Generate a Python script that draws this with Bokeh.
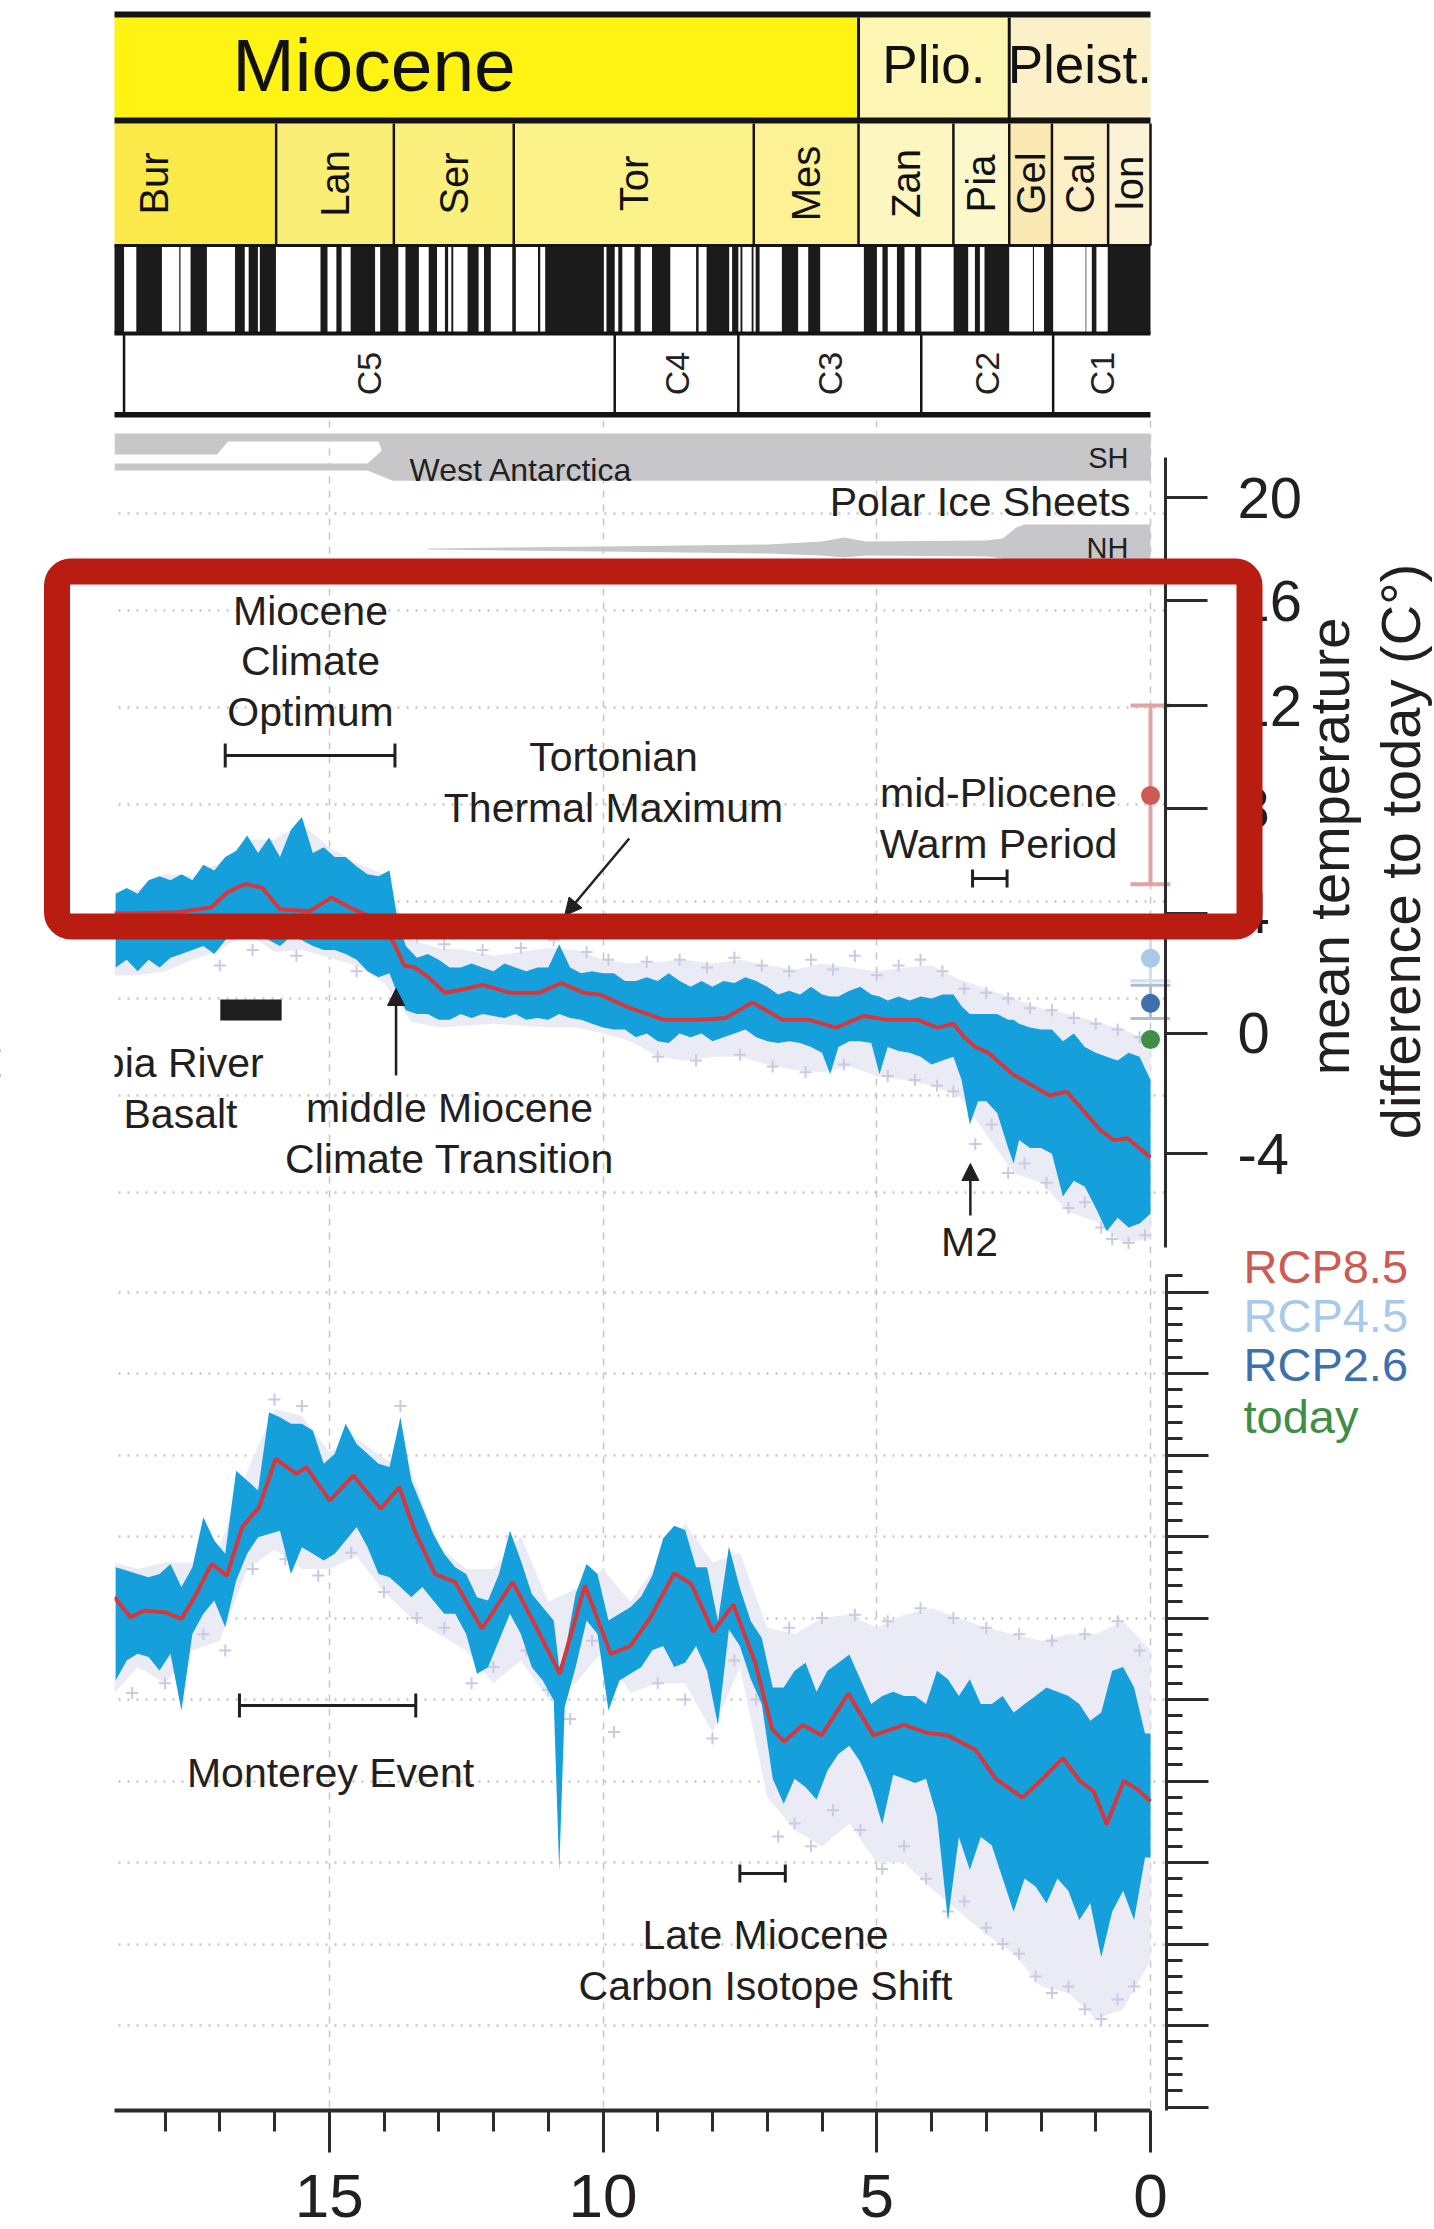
import numpy as np
from bokeh.plotting import figure
from bokeh.layouts import column
from bokeh.models import (Range1d, LinearAxis, FixedTicker, Grid, Arrow,
                          NormalHead, BoxAnnotation)
from bokeh.core.properties import value
from bokeh.embed import file_html
from bokeh.resources import INLINE

# ============================ DATA ============================
# Geologic time scale (Ma)
epoch_names = ["Miocene", "Plio.", "Pleist."]
epoch_old = [23.03, 5.333, 2.58]
epoch_young = [5.333, 2.58, 0.0]
epoch_colors = ["#fff314", "#fef7b4", "#fcf0c8"]

stage_names = ["Bur", "Lan", "Ser", "Tor", "Mes", "Zan", "Pia", "Gel", "Cal", "Ion"]
stage_old = [20.44, 15.97, 13.82, 11.63, 7.246, 5.333, 3.600, 2.58, 1.80, 0.774]
stage_young = [15.97, 13.82, 11.63, 7.246, 5.333, 3.600, 2.58, 1.80, 0.774, 0.0]
stage_colors = ["#fbe94a", "#fbee77", "#fbef7d", "#fcf28a", "#fcf195",
                "#fdf6c0", "#fdf7cc", "#fbe9b4", "#fcefc6", "#fcf2d6"]

chron_names = ["C5", "C4", "C3", "C2", "C1"]
chron_old = [18.748, 9.786, 7.528, 4.187, 1.778]
chron_young = [9.786, 7.528, 4.187, 1.778, 0.0]

# normal polarity intervals (black)
normal_young = [0.000, 0.988, 1.173, 1.778, 2.128, 2.581, 3.116, 3.330, 4.187, 4.493,
                4.799, 4.997, 6.033, 6.436, 7.140, 7.251, 7.454, 7.528, 7.695, 8.254,
                8.771, 9.311, 9.647, 9.786, 9.984, 11.146, 11.592, 12.049, 12.272, 12.735,
                12.829, 13.032, 13.363, 13.739, 14.163, 14.775, 15.032, 15.974, 16.303, 16.543,
                17.235, 17.717, 18.056, 18.748]
normal_old = [0.781, 1.072, 1.185, 1.945, 2.148, 3.032, 3.207, 3.596, 4.300, 4.631,
              4.896, 5.235, 6.252, 6.733, 7.212, 7.285, 7.489, 7.642, 8.108, 8.300,
              9.105, 9.426, 9.721, 9.937, 11.056, 11.188, 11.657, 12.174, 12.474, 12.770,
              12.887, 13.183, 13.608, 14.070, 14.609, 14.870, 15.160, 16.268, 16.472, 16.721,
              17.533, 17.740, 18.524, 19.722]

# Polar ice sheet schematic (age, upper / lower edge in px of the ice strip)
ice_sh_age = [19.5, 17.05, 16.85, 14.10, 13.85, 0.0]
ice_sh_top = [433, 433, 433, 433, 433, 433]
ice_sh_bottom = [454, 454, 441, 441, 480, 480]
ice_wais_age = [19.5, 14.30, 13.85, 0.0]
ice_wais_top = [463, 463, 441, 441]
ice_wais_bottom = [470, 470, 480, 480]
ice_nh_age = [13.2, 10.0, 7.0, 6.0, 5.6, 5.2, 3.0, 2.7, 2.45, 2.3, 0.0]
ice_nh_top = [548, 546, 544, 541, 537, 541, 540, 538, 527, 524, 524]
ice_nh_bottom = [549, 551, 553, 555, 557, 555, 556, 558, 562, 563, 563]

# Benthic d18O (permil, upper panel): envelope of the high-resolution record
d18_age = [18.9, 18.7, 18.5, 18.3, 18.1, 17.9, 17.7, 17.5, 17.3, 17.1,
           16.9, 16.7, 16.5, 16.3, 16.1, 15.9, 15.7, 15.5, 15.3, 15.1,
           14.9, 14.7, 14.5, 14.3, 14.1, 13.9, 13.75, 13.6, 13.4, 13.2,
           13.0, 12.8, 12.6, 12.4, 12.2, 12.0, 11.8, 11.6, 11.4, 11.2,
           11.0, 10.8, 10.6, 10.4, 10.2, 10.0, 9.8, 9.6, 9.4, 9.2,
           9.0, 8.8, 8.6, 8.4, 8.2, 8.0, 7.8, 7.6, 7.4, 7.2,
           7.0, 6.8, 6.6, 6.4, 6.2, 6.0, 5.85, 5.7, 5.5, 5.3,
           5.1, 4.95, 4.8, 4.6, 4.4, 4.2, 4.0, 3.8, 3.6, 3.45,
           3.3, 3.15, 3.0, 2.8, 2.6, 2.5, 2.4, 2.2, 2.0, 1.8,
           1.6, 1.4, 1.2, 1.0, 0.8, 0.6, 0.4, 0.2, 0.0]
d18_warm = [1.96, 1.93, 1.96, 1.89, 1.87, 1.89, 1.86, 1.89, 1.81, 1.84,
            1.77, 1.74, 1.66, 1.75, 1.67, 1.77, 1.63, 1.565, 1.75, 1.72,
            1.77, 1.77, 1.82, 1.86, 1.87, 1.84, 2.10, 2.23, 2.29, 2.27,
            2.30, 2.34, 2.34, 2.32, 2.34, 2.36, 2.32, 2.34, 2.36, 2.34,
            2.34, 2.22, 2.34, 2.37, 2.36, 2.37, 2.37, 2.41, 2.41, 2.39,
            2.41, 2.37, 2.41, 2.44, 2.41, 2.44, 2.41, 2.42, 2.39, 2.41,
            2.44, 2.48, 2.46, 2.48, 2.44, 2.48, 2.49, 2.49, 2.46, 2.44,
            2.48, 2.49, 2.51, 2.49, 2.51, 2.49, 2.50, 2.48, 2.48, 2.54,
            2.58, 2.58, 2.58, 2.58, 2.61, 2.61, 2.63, 2.65, 2.66, 2.66,
            2.72, 2.68, 2.75, 2.78, 2.80, 2.82, 2.78, 2.80, 2.92]
d18_cold = [2.34, 2.30, 2.36, 2.30, 2.34, 2.29, 2.27, 2.25, 2.23, 2.27,
            2.20, 2.13, 2.11, 2.17, 2.20, 2.23, 2.18, 2.20, 2.23, 2.25,
            2.25, 2.27, 2.30, 2.36, 2.39, 2.37, 2.48, 2.56, 2.58, 2.58,
            2.61, 2.61, 2.58, 2.60, 2.58, 2.59, 2.60, 2.58, 2.61, 2.60,
            2.61, 2.58, 2.60, 2.61, 2.63, 2.65, 2.66, 2.66, 2.70, 2.68,
            2.72, 2.73, 2.68, 2.70, 2.68, 2.72, 2.70, 2.68, 2.66, 2.70,
            2.72, 2.73, 2.72, 2.73, 2.75, 2.78, 2.89, 2.75, 2.72, 2.72,
            2.73, 2.89, 2.75, 2.77, 2.78, 2.80, 2.84, 2.82, 2.80, 2.92,
            3.15, 3.03, 3.03, 3.09, 3.27, 3.35, 3.23, 3.27, 3.27, 3.30,
            3.52, 3.44, 3.47, 3.58, 3.70, 3.63, 3.68, 3.66, 3.61]
# smoothed d18O (red)
d18_smooth_age = [19.0, 18.5, 17.76, 17.15, 16.85, 16.53, 16.22, 15.9, 15.36, 14.96,
                  14.56, 14.06, 13.81, 13.63, 13.44, 13.19, 12.89, 12.51, 12.2, 11.71,
                  11.16, 10.76, 10.36, 10.05, 9.74, 9.5, 8.88, 8.26, 7.76, 7.27,
                  6.72, 6.23, 5.74, 5.24, 4.8, 4.25, 3.89, 3.6, 3.4, 3.2,
                  2.96, 2.52, 2.21, 1.84, 1.53, 1.22, 0.91, 0.67, 0.42, 0.0]
d18_smooth = [2.06, 2.06, 2.055, 2.03, 1.95, 1.91, 1.93, 2.04, 2.05, 1.98,
              2.04, 2.10, 2.22, 2.33, 2.34, 2.39, 2.47, 2.45, 2.43, 2.47,
              2.47, 2.42, 2.47, 2.48, 2.52, 2.55, 2.61, 2.61, 2.60, 2.52,
              2.61, 2.61, 2.65, 2.59, 2.61, 2.61, 2.65, 2.63, 2.70, 2.75,
              2.78, 2.89, 2.94, 3.00, 2.98, 3.08, 3.18, 3.23, 3.22, 3.32]

# lower-resolution compilation (lavender crosses), envelope + individual points
lav_age = [19.0, 18.5, 18.0, 17.5, 17.0, 16.5, 16.0, 15.5, 15.0, 14.5,
           14.0, 13.5, 13.0, 12.5, 12.0, 11.5, 11.0, 10.5, 10.0, 9.5,
           9.0, 8.5, 8.0, 7.5, 7.0, 6.5, 6.0, 5.5, 5.0, 4.5,
           4.0, 3.5, 3.0, 2.5, 2.0, 1.5, 1.0, 0.5, 0.0]
d18_lav_warm = [1.95, 1.94, 1.86, 1.87, 1.80, 1.68, 1.68, 1.60, 1.72, 1.80,
                1.86, 2.20, 2.24, 2.25, 2.28, 2.26, 2.24, 2.25, 2.30, 2.32,
                2.31, 2.30, 2.32, 2.30, 2.33, 2.35, 2.32, 2.34, 2.36, 2.34,
                2.33, 2.40, 2.45, 2.50, 2.55, 2.58, 2.62, 2.66, 2.72]
d18_lav_cold = [2.38, 2.38, 2.36, 2.30, 2.25, 2.16, 2.26, 2.25, 2.29, 2.33,
                2.42, 2.62, 2.65, 2.64, 2.63, 2.64, 2.65, 2.65, 2.68, 2.72,
                2.80, 2.82, 2.80, 2.80, 2.84, 2.87, 2.88, 2.85, 2.90, 2.92,
                2.95, 3.00, 3.20, 3.40, 3.45, 3.60, 3.65, 3.76, 3.74]
d18_pts_age = [13.4, 12.9, 12.2, 11.5, 10.9, 10.3, 9.9, 9.2, 8.6, 8.1,
               7.6, 7.1, 6.6, 6.2, 5.8, 5.4, 5.0, 4.6, 4.2, 3.8,
               9.0, 8.3, 7.5, 6.9, 6.3, 5.6, 4.8, 4.3, 3.9, 3.6,
               3.4, 3.0, 2.6, 2.2, 1.8, 1.4, 1.0, 0.6, 0.2,
               3.2, 2.9, 2.6, 2.3, 1.9, 1.5, 1.2, 0.9, 0.7, 0.4, 0.1,
               17.0, 16.4, 15.6, 14.5]
d18_pts = [2.18, 2.22, 2.25, 2.24, 2.20, 2.26, 2.30, 2.31, 2.30, 2.34,
           2.29, 2.33, 2.36, 2.30, 2.35, 2.28, 2.38, 2.33, 2.30, 2.36,
           2.80, 2.82, 2.79, 2.85, 2.88, 2.84, 2.90, 2.92, 2.95, 2.98,
           2.45, 2.47, 2.50, 2.55, 2.56, 2.60, 2.63, 2.66, 2.70,
           3.25, 3.15, 3.40, 3.35, 3.45, 3.58, 3.55, 3.68, 3.74, 3.76, 3.72,
           2.33, 2.25, 2.28, 2.36]

# Temperature axis: labels and their position on the d18O scale
temp_ticks = [20, 16, 12, 8, 4, 0, -4]
temp_tick_d18o = [-0.08, 0.45, 0.99, 1.52, 2.06, 2.68, 3.30]

# Temperature markers at 0 Ma
rcp_names = ["RCP8.5", "RCP4.5", "RCP2.6", "today"]
rcp_temp = [8.5, 2.5, 1.0, -0.2]
rcp_colors = ["#cd5a53", "#a9c9e8", "#3e70ae", "#3e8e46"]
rcp85_range = [5.1, 12.0]
rcp45_range = [1.75, 3.6]
rcp26_range = [0.5, 1.6]

# Benthic d13C (permil, lower panel)
d13_age = [18.9, 18.7, 18.5, 18.3, 18.1, 17.9, 17.7, 17.5, 17.3, 17.1,
           16.9, 16.7, 16.5, 16.3, 16.1, 15.9, 15.7, 15.5, 15.3, 15.1,
           14.9, 14.7, 14.5, 14.3, 14.1, 13.9, 13.7, 13.5, 13.3, 13.1,
           12.9, 12.7, 12.5, 12.3, 12.1, 11.9, 11.7, 11.5, 11.3, 11.1,
           10.9, 10.8, 10.7, 10.5, 10.3, 10.1, 9.9, 9.7, 9.5,
           9.3, 9.1, 8.9, 8.7, 8.5, 8.3, 8.1, 7.9, 7.7, 7.5,
           7.3, 7.1, 6.9, 6.7, 6.5, 6.3, 6.1, 5.9, 5.7, 5.5,
           5.3, 5.1, 4.9, 4.7, 4.5, 4.3, 4.1, 3.9, 3.7, 3.5,
           3.3, 3.1, 2.9, 2.7, 2.5, 2.3, 2.1, 1.9, 1.7, 1.5,
           1.3, 1.1, 0.9, 0.7, 0.5, 0.3, 0.1, 0.0]
d13_high = [1.406, 1.396, 1.385, 1.375, 1.385, 1.416, 1.345, 1.406, 1.559, 1.488,
            1.447, 1.702, 1.672, 1.641, 1.881, 1.866, 1.846, 1.846, 1.825, 1.723,
            1.754, 1.846, 1.784, 1.754, 1.723, 1.713, 1.866, 1.672, 1.590, 1.508,
            1.447, 1.406, 1.385, 1.314, 1.304, 1.385, 1.518, 1.426, 1.324, 1.283,
            1.242, 1.099, 1.140, 1.324, 1.416, 1.385, 1.242, 1.263, 1.283,
            1.317, 1.380, 1.495, 1.533, 1.520, 1.406, 1.406, 1.240, 1.469, 1.342,
            1.240, 1.189, 1.037, 1.037, 1.088, 1.113, 1.024, 1.088, 1.113, 1.138,
            1.062, 0.986, 1.011, 1.024, 1.011, 1.011, 0.986, 1.088, 1.062, 1.011,
            1.062, 0.986, 0.986, 1.011, 0.960, 0.986, 1.011, 1.037, 1.024, 1.011,
            0.986, 0.935, 0.960, 1.088, 1.100, 1.037, 0.896, 0.896]
d13_low = [1.058, 1.120, 1.140, 1.130, 1.089, 1.140, 0.966, 1.201, 1.263, 1.304,
           1.222, 1.365, 1.447, 1.498, 1.508, 1.518, 1.385, 1.467, 1.447, 1.426,
           1.447, 1.488, 1.529, 1.467, 1.385, 1.375, 1.345, 1.314, 1.345, 1.304,
           1.263, 1.263, 1.201, 1.079, 1.099, 1.181, 1.263, 1.201, 1.099, 1.058,
           0.997, 0.475, 0.976, 1.099, 1.242, 1.201, 0.966, 1.058, 1.079,
           1.100, 1.151, 1.164, 1.100, 1.113, 1.164, 1.088, 0.922, 1.215, 1.164,
           1.062, 0.986, 0.757, 0.680, 0.757, 0.731, 0.693, 0.782, 0.833, 0.858,
           0.808, 0.731, 0.617, 0.769, 0.757, 0.744, 0.757, 0.642, 0.324, 0.578,
           0.477, 0.578, 0.553, 0.451, 0.349, 0.451, 0.426, 0.375, 0.451, 0.413,
           0.324, 0.375, 0.209, 0.349, 0.413, 0.324, 0.515, 0.515]
d13_smooth_age = [19.0, 18.63, 18.38, 18.01, 17.70, 17.46, 17.15, 16.87, 16.59, 16.28,
                  15.98, 15.60, 15.42, 14.99, 14.56, 14.06, 13.72, 13.44, 13.07, 12.70,
                  12.21, 11.65, 11.22, 10.79, 10.33, 9.86, 9.5, 9.13, 8.70, 8.39,
                  7.99, 7.62, 7.22, 6.91, 6.69, 6.35, 6.01, 5.52, 5.06, 4.50,
                  4.07, 3.70, 3.20, 2.83, 2.34, 1.97, 1.60, 1.29, 1.04, 0.80,
                  0.49, 0.24, 0.0]
d13_smooth = [1.314, 1.252, 1.273, 1.268, 1.247, 1.314, 1.416, 1.380, 1.529, 1.590,
              1.738, 1.692, 1.713, 1.610, 1.687, 1.585, 1.651, 1.518, 1.385, 1.360,
              1.217, 1.360, 1.222, 1.079, 1.350, 1.140, 1.164, 1.253, 1.387, 1.355,
              1.208, 1.291, 1.113, 0.909, 0.871, 0.922, 0.890, 1.018, 0.890, 0.922,
              0.897, 0.890, 0.846, 0.757, 0.699, 0.757, 0.820, 0.750, 0.719, 0.617,
              0.750, 0.725, 0.687]
d13_lav_high = [1.42, 1.40, 1.42, 1.42, 1.47, 1.70, 1.89, 1.87, 1.76, 1.80,
                1.74, 1.70, 1.47, 1.40, 1.40, 1.50, 1.30, 1.34, 1.40, 1.30,
                1.42, 1.54, 1.42, 1.45, 1.22, 1.20, 1.25, 1.26, 1.22, 1.26,
                1.28, 1.25, 1.22, 1.20, 1.18, 1.20, 1.20, 1.24, 1.15]
d13_lav_low = [1.02, 1.10, 1.05, 1.15, 1.18, 1.40, 1.46, 1.40, 1.40, 1.44,
               1.33, 1.25, 1.20, 1.15, 1.05, 1.12, 1.00, 1.05, 1.15, 1.02,
               1.05, 1.05, 0.90, 1.10, 0.70, 0.60, 0.55, 0.62, 0.50, 0.50,
               0.42, 0.35, 0.28, 0.22, 0.12, 0.10, 0.02, 0.05, 0.20]
d13_pts_age = [18.6, 18.0, 17.3, 16.9, 16.4, 15.8, 15.2, 14.6, 14.0, 13.4,
               12.9, 12.4, 12.0, 11.4, 11.0, 10.6, 10.2, 9.8, 16.0, 15.5, 13.7,
               9.0, 8.5, 8.0, 7.6, 7.2,
               6.8, 6.5, 6.2, 5.8, 5.3, 4.9, 4.5, 4.1, 3.7, 3.4,
               3.0, 2.7, 2.4, 2.1, 1.8, 1.5, 1.2, 0.9, 0.6, 0.3,
               6.6, 6.0, 5.4, 4.8, 4.2, 3.6, 3.0, 2.4, 1.8, 1.2, 0.6, 0.2]
d13_pts = [1.02, 1.05, 1.20, 1.15, 1.40, 1.43, 1.38, 1.45, 1.33, 1.25,
           1.22, 1.05, 1.10, 1.15, 1.03, 0.94, 1.18, 0.90, 1.92, 1.90, 1.90,
           1.05, 1.00, 0.88, 1.12, 1.00,
           0.58, 0.62, 0.55, 0.66, 0.60, 0.48, 0.55, 0.45, 0.35, 0.38,
           0.30, 0.25, 0.22, 0.15, 0.10, 0.12, 0.05, 0.02, 0.08, 0.12,
           1.22, 1.25, 1.26, 1.24, 1.28, 1.25, 1.22, 1.20, 1.18, 1.20, 1.24, 1.15]

# Events (Ma)
mco_span = [16.9, 13.8]
mpwp_span = [3.25, 2.62]
crb_span = [16.99, 15.87]
monterey_span = [16.64, 13.42]
lmcis_span = [7.5, 6.67]
mmct_age = 13.78
m2_age = 3.29
ttm_arrow = [9.52, 10.70]

x_major = [0, 5, 10, 15]
x_minor = [1, 2, 3, 4, 6, 7, 8, 9, 11, 12, 13, 14, 16, 17, 18]
d18_grid = [0.0, 0.5, 1.0, 1.5, 2.0, 2.5, 3.0, 3.5]
d13_major = [2.25, 2.0, 1.75, 1.5, 1.25, 1.0, 0.75, 0.5, 0.25, 0.0, -0.25]
d13_minor = [round(-0.25 + 0.05 * i, 2) for i in range(52)]

# ============================ STYLE / LAYOUT ============================
FONT = "Liberation Sans"
INK = "#231f20"
BLUE = "#15a0dc"
RED = "#d6373c"
LAV = "#ebebf5"
LAVPT = "#cacae3"
GRIDC = "#c6c6c6"
ICE = "#c7c7c9"
BOXRED = "#b91c10"

W, H = 1434, 2229
PLOT_L, PLOT_R = 114, 1165          # left edge of the plot, right axis position (px)
X_AXIS_PX = 2110                    # position of the age axis (px)
AGE0_PX, PX_PER_MA = 1150.0, 54.75  # x calibration (px)
LH = 1.09                           # line height of the multi-line notes


def age_at(px):
    return (AGE0_PX - px) / PX_PER_MA


AGE_LEFT = age_at(PLOT_L)


def clip_left(ages):
    # the reference picture is cropped at the plot's left edge
    return [min(a, AGE_LEFT) for a in ages]


def make_fig(top, bottom, yr):
    # every frame spans the full page width so the panels share one x mapping
    p = figure(width=W, height=bottom - top, x_range=Range1d(age_at(0), age_at(W)),
               y_range=yr, output_backend="svg", toolbar_location=None,
               x_axis_location=None, y_axis_location=None,
               min_border_left=0, min_border_right=0,
               min_border_top=0, min_border_bottom=0)
    p.center = [c for c in p.center if not isinstance(c, Grid)]  # no default grids
    p.outline_line_color = None
    p.background_fill_color = "white"
    p.border_fill_color = "white"
    return p


def txt(p, x, y, t, size, align="center", base="middle", angle=0.0, color=INK, **kw):
    p.text(x=x, y=y, text=t, text_font=value(FONT), text_font_size=size,
           text_align=align, text_baseline=base, angle=angle, text_color=color,
           text_line_height=LH, **kw)


def style_axis(ax, major_in, minor_in, width=3):
    ax.major_label_overrides = {v: "" for v in ax.ticker.ticks}
    ax.major_label_text_font_size = "1px"
    ax.major_label_standoff = 0
    ax.axis_line_width = width
    ax.axis_line_color = "#2b2b2b"
    ax.major_tick_line_width = 3
    ax.minor_tick_line_width = 3
    ax.major_tick_line_color = "#2b2b2b"
    ax.minor_tick_line_color = "#2b2b2b"
    ax.major_tick_out = 0
    ax.minor_tick_out = 0
    ax.major_tick_in = major_in
    ax.minor_tick_in = minor_in
    return ax


# ---------------- Figure 1: time scale ----------------
F1_BOT = 420
p1 = make_fig(0, F1_BOT, Range1d(F1_BOT, 0))
EP = (17, 118)
ST = (123, 245)
POL = (245, 333)
CH = (333, 413)
p1.quad(left=clip_left(epoch_old), right=epoch_young, top=EP[0], bottom=EP[1],
        fill_color=epoch_colors, line_color=None)
p1.quad(left=clip_left(stage_old), right=stage_young, top=ST[0], bottom=ST[1],
        fill_color=stage_colors, line_color=None)
p1.quad(left=clip_left(normal_old), right=normal_young, top=POL[0], bottom=POL[1],
        fill_color="#1b1b1b", line_color=None)
p1.quad(left=AGE_LEFT, right=0, top=[11, 117, 243.5, 331, 411.5],
        bottom=[17, 123, 246.5, 335, 417], fill_color="#141414", line_color=None)
p1.segment(x0=epoch_young[:-1], x1=epoch_young[:-1], y0=EP[0], y1=EP[1],
           line_width=3, line_color="#141414")
p1.segment(x0=stage_young, x1=stage_young, y0=ST[0], y1=ST[1],
           line_width=2.5, line_color="#141414")
p1.segment(x0=chron_old, x1=chron_old, y0=CH[0], y1=CH[1],
           line_width=2.5, line_color="#141414")
ep_mid = [(a + b) / 2 for a, b in zip(epoch_old, epoch_young)]
txt(p1, ep_mid[:1], [64], epoch_names[:1], "75px", color="#111")
txt(p1, ep_mid[1:], [64, 64], epoch_names[1:], "53px", color="#111")
st_mid = [(a + b) / 2 for a, b in zip(stage_old, stage_young)]
txt(p1, st_mid, [183] * len(st_mid), stage_names, "40px", angle=np.pi / 2, color="#111")
ch_mid = [(a + b) / 2 for a, b in zip(chron_old, chron_young)]
txt(p1, ch_mid, [373] * len(ch_mid), chron_names, "34px", angle=np.pi / 2, color="#222")

# ---------------- Figure 2: ice sheets, d18O / temperature and d13C ----------------
F2_TOP, F2_BOT = F1_BOT, H


def d18_at(py):
    return 1.0 + (py - 707.0) / 194.0


def d13_at(py):
    return 2.0 - (py - 1373.0) / 326.0


p2 = make_fig(F2_TOP, F2_BOT, Range1d(d18_at(F2_BOT), d18_at(F2_TOP)))
p2.extra_y_ranges = {"px": Range1d(F2_BOT, F2_TOP),
                     "d13": Range1d(d13_at(F2_BOT), d13_at(F2_TOP))}
p2.add_layout(Grid(dimension=0, ticker=FixedTicker(ticks=x_major),
                   grid_line_color=GRIDC, grid_line_dash="7 7", grid_line_width=1.5))
p2.add_layout(Grid(dimension=1, ticker=FixedTicker(ticks=d18_grid),
                   grid_line_color=GRIDC, grid_line_dash="2 7", grid_line_width=2.5))
p2.add_layout(Grid(dimension=1, ticker=FixedTicker(ticks=d13_major[:-1]), y_range_name="d13",
                   grid_line_color=GRIDC, grid_line_dash="2 7", grid_line_width=2.5))

# ice sheets
p2.varea(x=clip_left(ice_sh_age), y1=ice_sh_top, y2=ice_sh_bottom, fill_color=ICE,
         y_range_name="px")
p2.varea(x=clip_left(ice_wais_age), y1=ice_wais_top, y2=ice_wais_bottom, fill_color=ICE,
         y_range_name="px")
p2.varea(x=ice_nh_age, y1=ice_nh_top, y2=ice_nh_bottom, fill_color=ICE, y_range_name="px")
txt(p2, [age_at(409)], [469], ["West Antarctica"], "32px", align="left", y_range_name="px")
txt(p2, [age_at(1128)], [457], ["SH"], "29px", align="right", y_range_name="px")
txt(p2, [age_at(1130)], [501], ["Polar Ice Sheets"], "41px", align="right", y_range_name="px")
txt(p2, [age_at(1128)], [547], ["NH"], "29px", align="right", y_range_name="px")

# d18O record
p2.varea(x=clip_left(lav_age), y1=d18_lav_warm, y2=d18_lav_cold, fill_color=LAV)
p2.scatter(d18_pts_age, d18_pts, marker="cross", size=12, line_color=LAVPT, line_width=2)
p2.varea(x=d18_age, y1=d18_warm, y2=d18_cold, fill_color=BLUE)
p2.line(clip_left(d18_smooth_age), d18_smooth, line_color=RED, line_width=4)

# d13C record
p2.varea(x=clip_left(lav_age), y1=d13_lav_high, y2=d13_lav_low, fill_color=LAV,
         y_range_name="d13")
p2.scatter(d13_pts_age, d13_pts, marker="cross", size=12, line_color=LAVPT, line_width=2,
           y_range_name="d13")
p2.varea(x=d13_age, y1=d13_high, y2=d13_low, fill_color=BLUE, y_range_name="d13")
p2.line(clip_left(d13_smooth_age), d13_smooth, line_color=RED, line_width=4,
        y_range_name="d13")

# event markers (upper panel)
y_mco, y_mpwp = d18_at(755), d18_at(878)
p2.segment(x0=[mco_span[0], mpwp_span[0]], x1=[mco_span[1], mpwp_span[1]],
           y0=[y_mco, y_mpwp], y1=[y_mco, y_mpwp], line_color=INK, line_width=3)
capx = [mco_span[0], mco_span[1], mpwp_span[0], mpwp_span[1]]
cap_h = [12 / 194, 12 / 194, 9 / 194, 9 / 194]
capy = [y_mco, y_mco, y_mpwp, y_mpwp]
p2.segment(x0=capx, x1=capx, y0=[a - b for a, b in zip(capy, cap_h)],
           y1=[a + b for a, b in zip(capy, cap_h)], line_color=INK, line_width=3)
p2.quad(left=crb_span[0], right=crb_span[1], top=d18_at(999), bottom=d18_at(1020),
        fill_color="#1e1e1e", line_color=None)

txt(p2, [age_at(310)], [d18_at(661)], ["Miocene\nClimate\nOptimum"], "41px")
txt(p2, [age_at(613)], [d18_at(782)], ["Tortonian\nThermal Maximum"], "41px")
txt(p2, [age_at(998)], [d18_at(818)], ["mid-Pliocene\nWarm Period"], "41px")
txt(p2, [age_at(123)], [d18_at(1088)], ["Columbia River\nFlood Basalt"], "41px")
txt(p2, [age_at(449)], [d18_at(1133)], ["middle Miocene\nClimate Transition"], "41px")
txt(p2, [age_at(969)], [d18_at(1241)], ["M2"], "41px")

head = dict(size=17, fill_color=INK, line_color=INK)
p2.add_layout(Arrow(end=NormalHead(**head), x_start=ttm_arrow[0], y_start=d18_at(838),
                    x_end=ttm_arrow[1], y_end=d18_at(915), line_color=INK, line_width=2.5))
p2.add_layout(Arrow(end=NormalHead(**head), x_start=mmct_age, y_start=d18_at(1075),
                    x_end=mmct_age, y_end=d18_at(988), line_color=INK, line_width=2.5))
p2.add_layout(Arrow(end=NormalHead(**head), x_start=m2_age, y_start=d18_at(1215),
                    x_end=m2_age, y_end=d18_at(1163), line_color=INK, line_width=2.5))

# event markers (lower panel)
y_mont, y_lm = d13_at(1705), d13_at(1873)
p2.segment(x0=[monterey_span[0], lmcis_span[0]], x1=[monterey_span[1], lmcis_span[1]],
           y0=[y_mont, y_lm], y1=[y_mont, y_lm], line_color=INK, line_width=3,
           y_range_name="d13")
capx3 = [monterey_span[0], monterey_span[1], lmcis_span[0], lmcis_span[1]]
caph3 = [12 / 326, 12 / 326, 9 / 326, 9 / 326]
capy3 = [y_mont, y_mont, y_lm, y_lm]
p2.segment(x0=capx3, x1=capx3, y0=[a - b for a, b in zip(capy3, caph3)],
           y1=[a + b for a, b in zip(capy3, caph3)], line_color=INK, line_width=3,
           y_range_name="d13")
txt(p2, [age_at(330)], [d13_at(1772)], ["Monterey Event"], "41px", y_range_name="d13")
txt(p2, [age_at(765)], [d13_at(1960)], ["Late Miocene\nCarbon Isotope Shift"], "41px",
    y_range_name="d13")

# temperature markers at 0 Ma
t_asc = temp_ticks[::-1]
p_asc = temp_tick_d18o[::-1]


def t2y(t):
    return float(np.interp(t, t_asc, p_asc))


cap_w = 20 / PX_PER_MA
bars = [(rcp85_range, "#dba6a4", 4), (rcp45_range, "#cfe0f0", 3), (rcp26_range, "#a9bfd9", 3)]
for rng, col, lw in bars:
    p2.segment(x0=0, x1=0, y0=t2y(rng[0]), y1=t2y(rng[1]), line_color=col, line_width=lw)
    p2.segment(x0=[cap_w, cap_w], x1=[-cap_w, -cap_w], y0=[t2y(rng[0]), t2y(rng[1])],
               y1=[t2y(rng[0]), t2y(rng[1])], line_color=col, line_width=lw)
p2.scatter(x=[0] * 4, y=[t2y(t) for t in rcp_temp], size=19, fill_color=rcp_colors,
           line_color=None)

# white margins: the picture is cropped left of the plot, the grid stops at the axes
p2.quad(left=[age_at(-30), age_at(PLOT_R + 5), age_at(-30)],
        right=[AGE_LEFT, age_at(W + 30), age_at(W + 30)],
        top=[d18_at(F2_TOP - 20), d18_at(F2_TOP - 20), d18_at(X_AXIS_PX + 2)],
        bottom=[d18_at(F2_BOT + 20), d18_at(F2_BOT + 20), d18_at(F2_BOT + 20)],
        fill_color="white", line_color=None)

# temperature axis (ticks point right), its labels and title
ax_t = LinearAxis(ticker=FixedTicker(ticks=temp_tick_d18o), fixed_location=age_at(PLOT_R),
                  bounds=(d18_at(457), d18_at(1247)))
p2.add_layout(style_axis(ax_t, 42, 0), "left")
txt(p2, [age_at(1237)] * len(temp_ticks), temp_tick_d18o, [str(t) for t in temp_ticks],
    "58px", align="left")
txt(p2, [age_at(1329), age_at(1400)], [d18_at(846), d18_at(851)],
    ["mean temperature", "difference to today (C°)"], "56px", angle=np.pi / 2)

# d13C axis (ticks point right) and scenario legend
ax_c = LinearAxis(ticker=FixedTicker(ticks=d13_major, minor_ticks=d13_minor),
                  y_range_name="d13", fixed_location=age_at(PLOT_R + 1),
                  bounds=(d13_at(X_AXIS_PX), d13_at(1274)))
p2.add_layout(style_axis(ax_c, 42, 16), "left")
txt(p2, [age_at(1243)] * 4, [d13_at(py) for py in [1266, 1315, 1364, 1416]],
    rcp_names, "47px", align="left", color=rcp_colors, y_range_name="d13")

# age axis (ticks point down) and its labels
ax_x = LinearAxis(ticker=FixedTicker(ticks=x_major, minor_ticks=x_minor),
                  fixed_location=d18_at(X_AXIS_PX), bounds=(0, AGE_LEFT))
p2.add_layout(style_axis(ax_x, 42, 21, width=4), "above")
txt(p2, x_major, [d18_at(2195)] * len(x_major), [str(v) for v in x_major], "62px")

p2.add_layout(BoxAnnotation(left=age_at(56.5), right=age_at(1249), top=d18_at(571),
                            bottom=d18_at(926), fill_alpha=0, line_color=BOXRED,
                            line_alpha=1.0, line_width=26, border_radius=14,
                            level="overlay"))

layout = column(p1, p2, spacing=0)
open("out.html", "w").write(file_html(layout, INLINE))
